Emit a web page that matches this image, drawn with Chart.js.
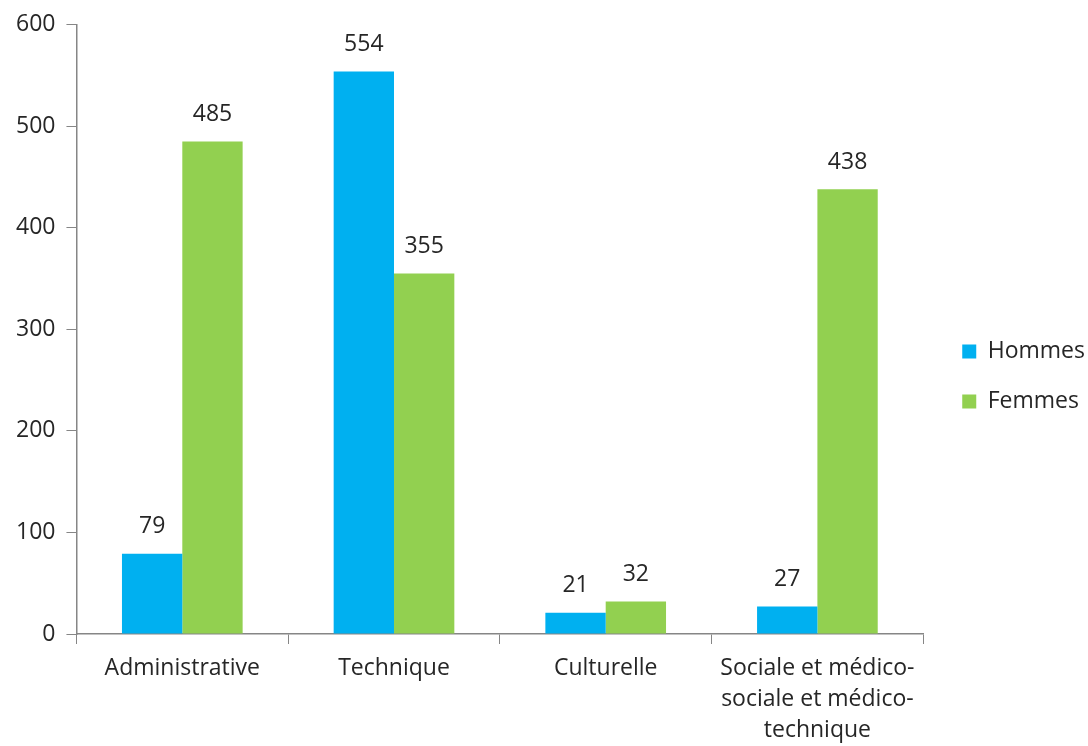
<!DOCTYPE html>
<html>
<head>
<meta charset="utf-8">
<script src="https://cdn.jsdelivr.net/npm/chart.js@4/dist/chart.umd.min.js"></script>
<style>
  html, body { margin: 0; padding: 0; background: #fff; }
  #wrap { width: 1088px; height: 746px; }
</style>
</head>
<body>
<div id="wrap"><canvas id="filiereChart"></canvas></div>
<script>
const categories = [
    'Administrative',
    'Technique',
    'Culturelle',
    ['Sociale et médico-', 'sociale et médico-', 'technique']
];
const hommes = [79, 554, 21, 27];
const femmes = [485, 355, 32, 438];
const yTicks = [0, 100, 200, 300, 400, 500, 600];

const FONT = '"Open Sans", "Noto Sans", sans-serif';
const TEXT = '#262626';
const AXIS = '#868686';
const FS = 23;

// value above each bar
const barValues = {
    id: 'barValues',
    afterDatasetsDraw(chart) {
        const ctx = chart.ctx;
        ctx.save();
        ctx.font = FS + 'px ' + FONT;
        ctx.fillStyle = TEXT;
        ctx.textAlign = 'center';
        ctx.textBaseline = 'middle';
        chart.data.datasets.forEach((ds, i) => {
            chart.getDatasetMeta(i).data.forEach((bar, j) => {
                ctx.fillText(ds.data[j], bar.x, bar.y - 27);
            });
        });
        ctx.restore();
    }
};

Chart.defaults.font.family = FONT;
Chart.defaults.color = TEXT;

const ctx = document.getElementById('filiereChart').getContext('2d');
new Chart(ctx, {
    type: 'bar',
    data: {
        labels: categories,
        datasets: [
            { label: 'Hommes', data: hommes, backgroundColor: '#00B0F0' },
            { label: 'Femmes', data: femmes, backgroundColor: '#92D050' }
        ]
    },
    options: {
        responsive: true,
        maintainAspectRatio: false,
        animation: false,
        categoryPercentage: 0.57,
        barPercentage: 1,
        layout: { padding: { top: 7, right: -7, left: 5, bottom: 0 } },
        plugins: {
            legend: {
                position: 'right',
                labels: {
                    font: { size: FS },
                    color: TEXT,
                    boxWidth: 14,
                    boxHeight: 14,
                    padding: 27
                }
            },
            tooltip: { enabled: false }
        },
        scales: {
            x: {
                grid: {
                    offset: true,
                    drawOnChartArea: false,
                    color: AXIS,
                    tickLength: 10
                },
                border: { color: AXIS, width: 1.5 },
                ticks: { font: { size: FS, lineHeight: 1.35 }, color: TEXT, padding: 9, maxRotation: 0 },
                afterFit(scale) { scale.height = 112; }
            },
            y: {
                min: 0,
                max: 600,
                afterBuildTicks(axis) {
                    axis.ticks = yTicks.map(v => ({ value: v }));
                },
                grid: {
                    drawOnChartArea: false,
                    color: AXIS,
                    tickLength: 10
                },
                border: { color: AXIS, width: 1.5 },
                ticks: { font: { size: FS }, color: TEXT, padding: 11 }
            },
            // empty spacer between the plot and the legend
            gap: {
                position: 'right',
                display: true,
                grid: { display: false },
                border: { display: false },
                ticks: { display: false },
                afterFit(scale) { scale.width = 12; }
            }
        }
    },
    plugins: [barValues]
});
</script>
</body>
</html>
